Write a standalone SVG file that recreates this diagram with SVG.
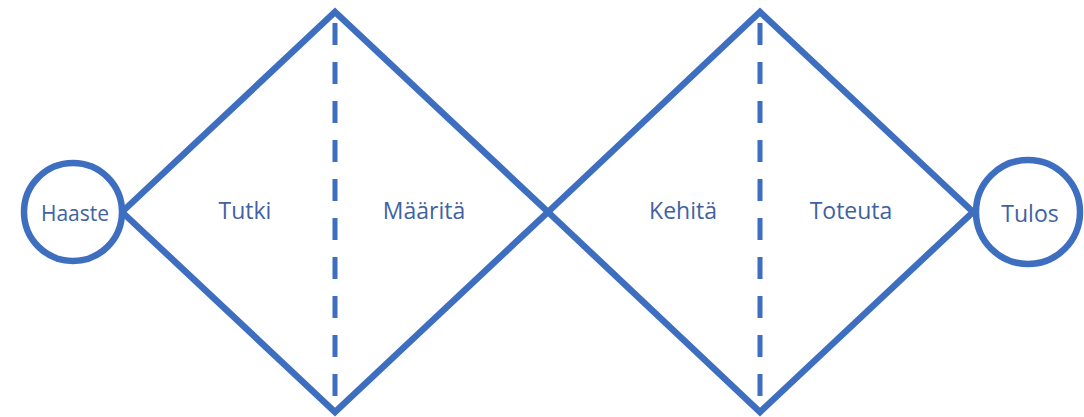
<svg xmlns="http://www.w3.org/2000/svg" width="1084" height="417" viewBox="0 0 1084 417">
<style>
.ln{fill:none;stroke:#3e6ec0;stroke-width:6.5;stroke-linejoin:miter}
.ds{fill:none;stroke:#3e6ec0;stroke-width:5;stroke-dasharray:22 17}
.lb{font-family:"Open Sans","Liberation Sans",sans-serif;fill:#4062a3;text-anchor:middle;dominant-baseline:central}
</style>
<rect width="1084" height="417" fill="#ffffff"/>
<g id="connectors">
<polyline class="ln" points="122,212 335,12 548,212 335,412 122,212"/>
<polyline class="ln" points="548,212 760,12 973,212 760,412 548,212"/>
<line class="ds" x1="335" y1="23" x2="335" y2="410"/>
<line class="ds" x1="760" y1="23" x2="760" y2="410"/>
</g>
<g id="haaste"><circle class="ln" cx="73" cy="212" r="49"/><text class="lb" x="75" y="213" font-size="21">Haaste</text></g>
<g id="tutki"><text class="lb" x="245" y="210" font-size="23">Tutki</text></g>
<g id="maarita"><text class="lb" x="424" y="210" font-size="23">Määritä</text></g>
<g id="kehita"><text class="lb" x="683" y="210" font-size="23">Kehitä</text></g>
<g id="toteuta"><text class="lb" x="851" y="210" font-size="23">Toteuta</text></g>
<g id="tulos"><circle class="ln" cx="1028" cy="212" r="52"/><text class="lb" x="1030" y="213" font-size="23">Tulos</text></g>
</svg>
